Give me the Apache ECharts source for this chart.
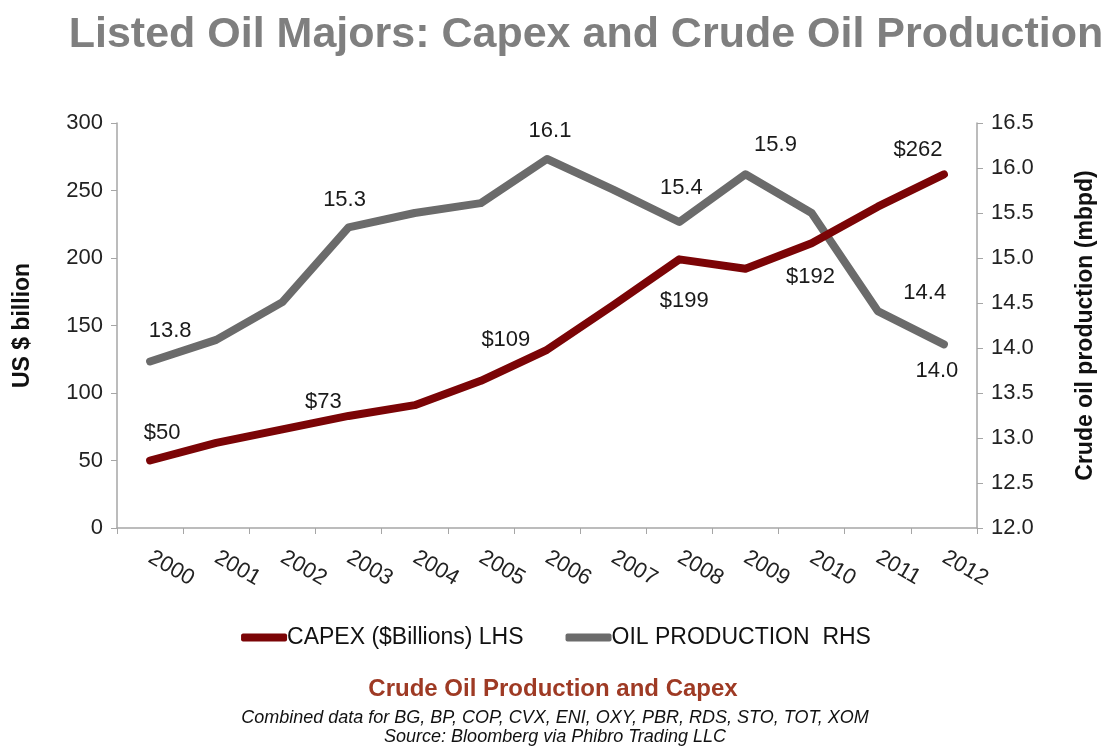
<!DOCTYPE html>
<html>
<head>
<meta charset="utf-8">
<script src="https://cdn.jsdelivr.net/npm/echarts@6/dist/echarts.min.js"></script>
<style>
  html, body { margin: 0; padding: 0; background: #fff; }
  #chart { width: 1112px; height: 747px; }
</style>
</head>
<body>
<div id="chart"></div>
<script>
const years = ['2000', '2001', '2002', '2003', '2004', '2005', '2006', '2007', '2008', '2009', '2010', '2011', '2012'];
const capex = [50, 63, 73, 83, 91, 109, 132, 165, 199, 192, 211, 238, 262];
const oilProduction = [13.85, 14.09, 14.51, 15.34, 15.5, 15.61, 16.1, 15.76, 15.4, 15.93, 15.5, 14.41, 14.04];

// which points carry a value label, and where the label sits relative to the point
const capexLabels = { 0: [12, -28], 2: [41, -28], 5: [25, -41], 8: [5, 42], 9: [65, 8], 12: [-26, -24] };
const oilLabels = { 0: [20, -31], 3: [-4, -27], 6: [3, -28], 8: [2, -34], 9: [30, -29], 11: [47, -18], 12: [-7, 27] };

const CAPEX_COLOR = '#7b0406';
const OIL_COLOR = '#6b6b6b';
const FONT = 'Liberation Sans, Arial, sans-serif';

function withLabels(values, labels, fmt) {
  return values.map((v, i) => {
    if (!labels[i]) return v;
    return {
      value: v,
      label: {
        show: true,
        position: 'inside',
        offset: labels[i],
        formatter: fmt,
        fontSize: 22,
        color: '#1a1a1a',
        fontFamily: FONT
      }
    };
  });
}

const chart = echarts.init(document.getElementById('chart'));
chart.setOption({
  animation: false,
  textStyle: { fontFamily: FONT },
  title: [
    {
      text: 'Listed Oil Majors: Capex and Crude Oil Production',
      left: 581, top: 9, textAlign: 'center',
      textStyle: { fontSize: 43, fontWeight: 'bold', color: '#7f7f7f', fontFamily: FONT }
    },
    {
      text: 'Crude Oil Production and Capex',
      left: 548, top: 672, textAlign: 'center',
      textStyle: { fontSize: 24, fontWeight: 'bold', color: '#9e3a24', fontFamily: FONT }
    },
    {
      text: 'Combined data for BG, BP, COP, CVX, ENI, OXY, PBR, RDS, STO, TOT, XOM\nSource: Bloomberg via Phibro Trading LLC',
      left: 550, top: 703, textAlign: 'center',
      textStyle: { fontSize: 18, fontStyle: 'italic', fontWeight: 'normal', color: '#111', lineHeight: 19, fontFamily: FONT }
    }
  ],
  legend: {
    top: 621, left: 'center',
    itemWidth: 46, itemHeight: 8, itemGap: 42,
    icon: 'roundRect',
    textStyle: { fontSize: 23, color: '#111', padding: [0, 0, 0, -5] },
    data: ['CAPEX ($Billions) LHS', 'OIL PRODUCTION  RHS']
  },
  grid: { left: 117, right: 135, top: 123, bottom: 219 },
  xAxis: {
    type: 'category',
    data: years,
    boundaryGap: true,
    axisLine: { lineStyle: { color: '#a6a6a6', width: 1.5 } },
    axisTick: { show: true, length: 6, lineStyle: { color: '#a6a6a6' } },
    axisLabel: { rotate: -30, fontSize: 22, color: '#222', margin: 28 }
  },
  yAxis: [
    {
      type: 'value', min: 0, max: 300, interval: 50,
      name: 'US $ billion', nameLocation: 'middle', nameGap: 83, nameRotate: 90,
      nameTextStyle: { fontSize: 23, fontWeight: 'bold', color: '#111' },
      axisLine: { show: true, lineStyle: { color: '#a6a6a6', width: 1.5 } },
      axisTick: { show: true, length: 6, lineStyle: { color: '#a6a6a6' } },
      axisLabel: { fontSize: 22, color: '#222', margin: 14 },
      splitLine: { show: false }
    },
    {
      type: 'value', min: 12, max: 16.5, interval: 0.5,
      name: 'Crude oil production (mbpd)', nameLocation: 'middle', nameGap: 97, nameRotate: 90,
      nameTextStyle: { fontSize: 23, fontWeight: 'bold', color: '#111' },
      axisLine: { show: true, lineStyle: { color: '#a6a6a6', width: 1.5 } },
      axisTick: { show: true, length: 6, lineStyle: { color: '#a6a6a6' } },
      axisLabel: { fontSize: 22, color: '#222', margin: 14, formatter: v => v.toFixed(1) },
      splitLine: { show: false }
    }
  ],
  series: [
    {
      name: 'CAPEX ($Billions) LHS',
      type: 'line',
      yAxisIndex: 0,
      data: withLabels(capex, capexLabels, p => '$' + p.value),
      symbol: 'circle', symbolSize: 1,
      itemStyle: { color: CAPEX_COLOR },
      lineStyle: { color: CAPEX_COLOR, width: 8, cap: 'round', join: 'round' },
      z: 3
    },
    {
      name: 'OIL PRODUCTION  RHS',
      type: 'line',
      yAxisIndex: 1,
      data: withLabels(oilProduction, oilLabels, p => p.value.toFixed(1)),
      symbol: 'circle', symbolSize: 1,
      itemStyle: { color: OIL_COLOR },
      lineStyle: { color: OIL_COLOR, width: 8, cap: 'round', join: 'round' },
      z: 2
    }
  ]
});
</script>
</body>
</html>
